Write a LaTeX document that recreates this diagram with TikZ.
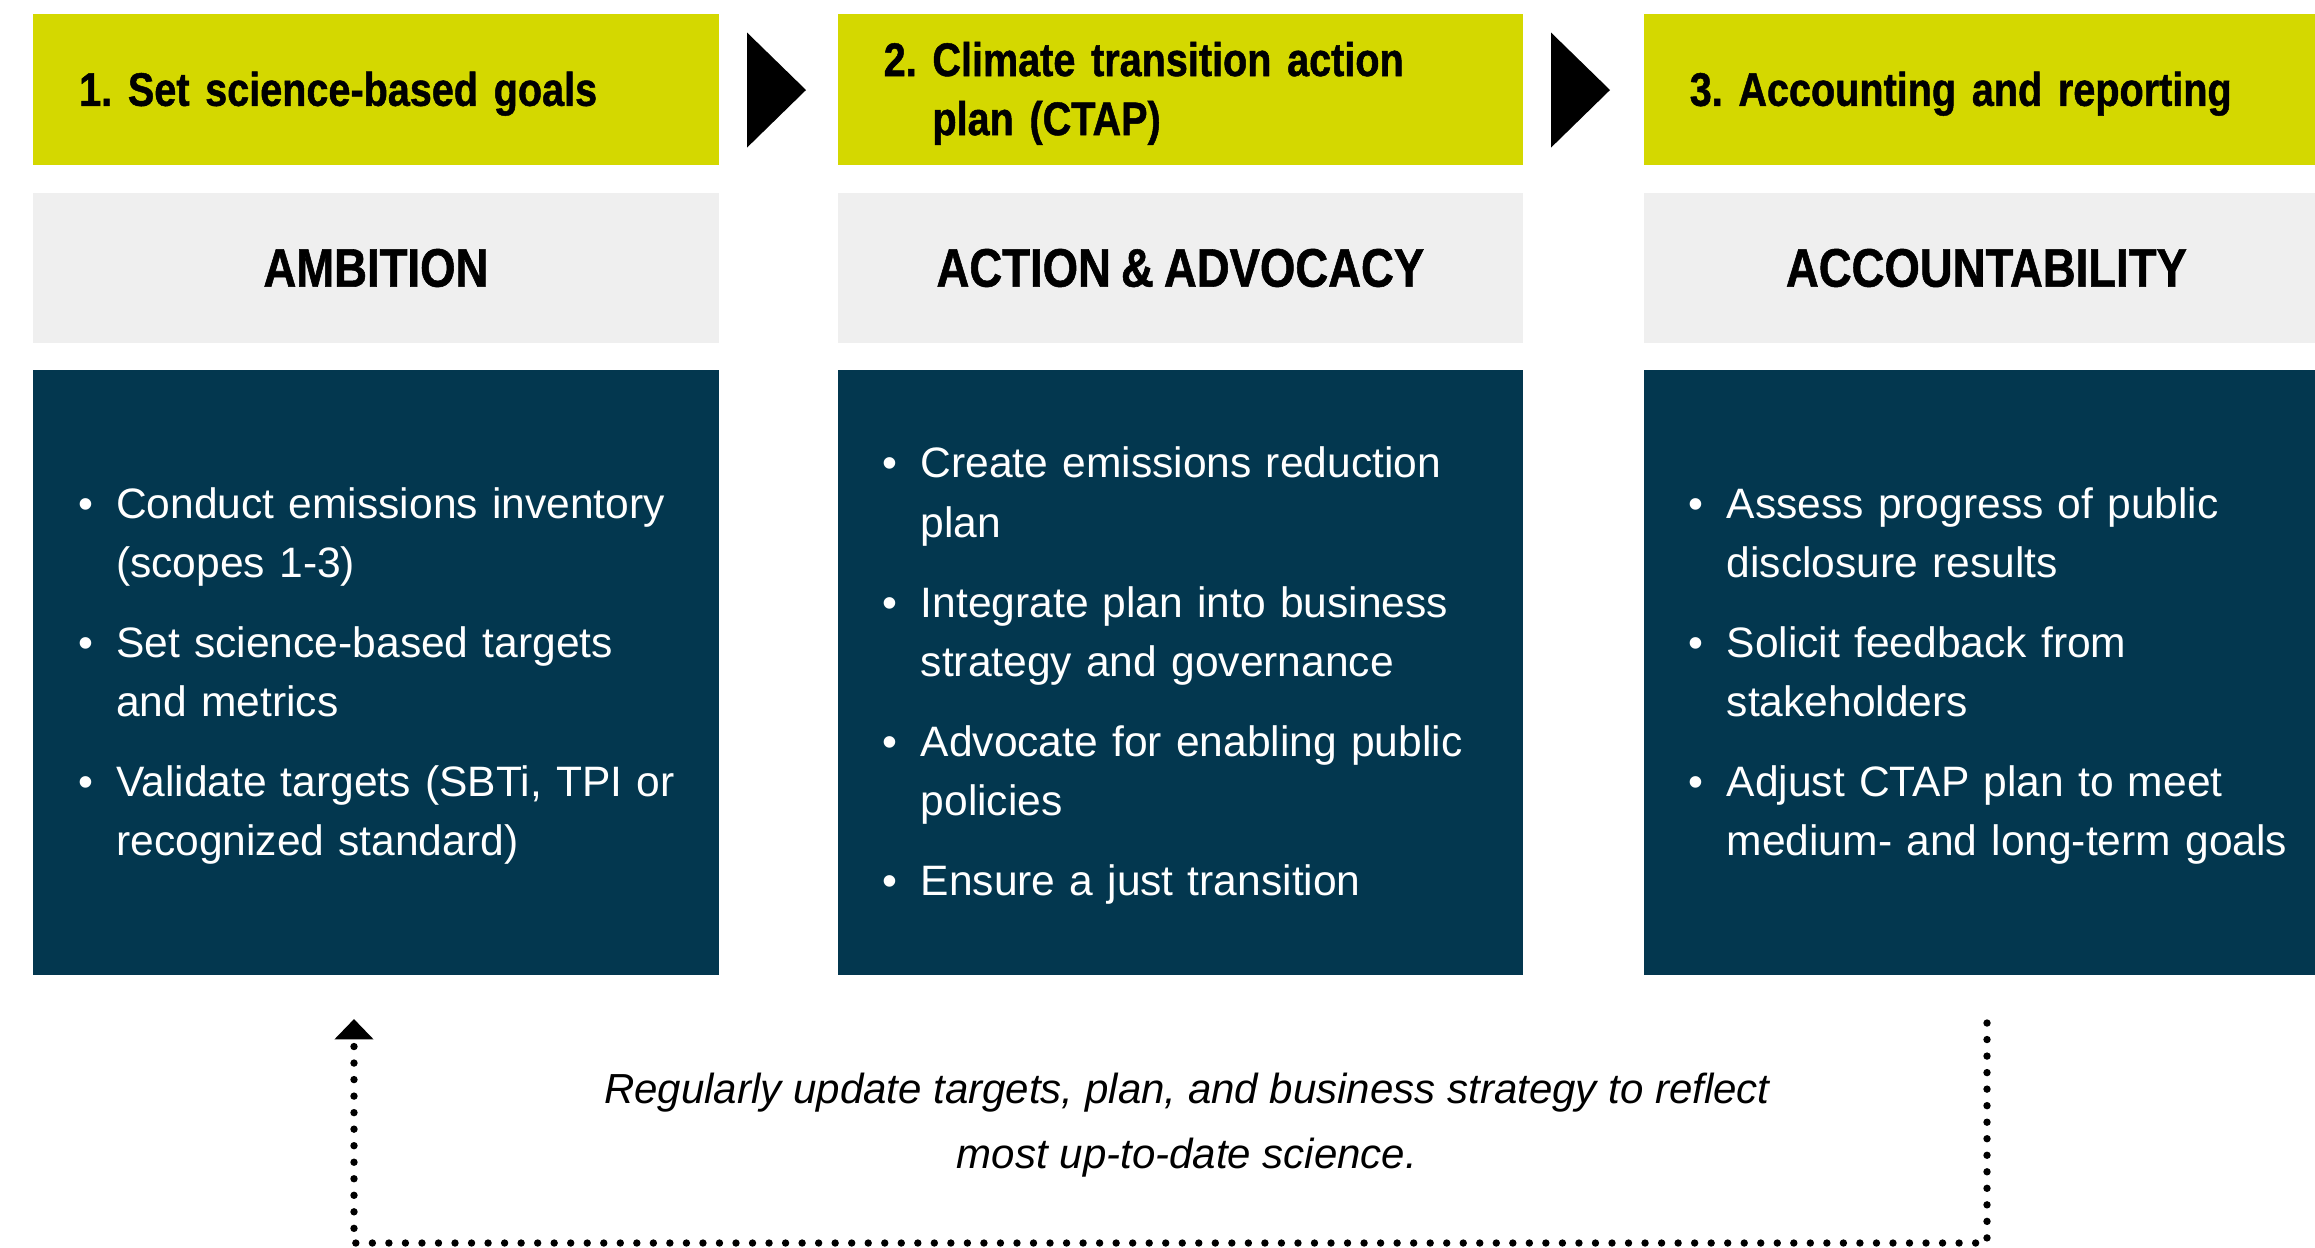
\documentclass[tikz,border=0pt]{standalone}
\usepackage{fontspec}
\setmainfont{Liberation Sans}
\newfontfamily\condfont[FakeStretch=0.84, WordSpace=0.8, BoldFeatures={FakeBold=1}]{Liberation Sans}
\usetikzlibrary{arrows.meta}
\frenchspacing

\definecolor{goalyellow}{HTML}{D4D800}
\definecolor{pillargrey}{HTML}{EFEFEF}
\definecolor{stepsblue}{HTML}{03374F}

\newcommand{\bitem}[1]{\par\noindent\makebox[0.38cm][l]{\textbullet}%
  \begin{tabular}[t]{@{}l@{}}#1\end{tabular}\par}

\tikzset{
  goalbox/.style={fill=goalyellow, anchor=north west, minimum width=6.85cm,
    minimum height=1.51cm, text width=5.93cm, inner xsep=0.46cm, inner ysep=0pt,
    align=left, font=\condfont\bfseries\fontsize{13.4}{16.8}\selectfont},
  pillarbox/.style={fill=pillargrey, anchor=north west, minimum width=6.85cm,
    minimum height=1.505cm, inner sep=0pt,
    font=\condfont\bfseries\fontsize{15.4}{17}\selectfont},
  stepsbox/.style={fill=stepsblue, anchor=north west, minimum width=6.85cm,
    minimum height=6.05cm, inner sep=0pt},
  stepstext/.style={anchor=west, text=white, text width=6.3cm, inner sep=0pt,
    align=left, font=\fontsize{12.1}{16.8}\selectfont},
  feedback/.style={line width=2.1pt, line cap=round, dash pattern=on 0pt off 4.7pt,
    -{Triangle[width=10.8pt,length=5.8pt]}}
}

\begin{document}
\begin{tikzpicture}[x=0.01cm,y=-0.01cm]
  \useasboundingbox (0,0) rectangle (2315,1247);

  \node[goalbox] (Goal1) at (32.5,13) {1. Set science-based goals\vspace*{-0.09cm}};
  \node[goalbox] (Goal2) at (837,13)
    {2. \begin{tabular}[t]{@{}l@{}}Climate transition action\\plan (CTAP)\end{tabular}\vspace*{-0.09cm}};
  \node[goalbox] (Goal3) at (1643,13) {3. Accounting and reporting\vspace*{-0.09cm}};

  \fill (747,32.5) -- (806,90) -- (747,147.6) -- cycle;
  \fill (1551,32.5) -- (1610,90) -- (1551,147.6) -- cycle;

  \node[pillarbox] (Pillar1) at (32.5,192) {AMBITION};
  \node[pillarbox] (Pillar2) at (837,192) {ACTION \& ADVOCACY};
  \node[pillarbox] (Pillar3) at (1643,192) {ACCOUNTABILITY};

  \node[stepsbox] (Steps1) at (32.5,369) {};
  \node[stepsbox] (Steps2) at (837,369) {};
  \node[stepsbox] (Steps3) at (1643,369) {};

  \node[stepstext] (List1) at ([xshift=0.45cm,yshift=0.15cm]Steps1.west) {\setlength\parskip{5pt}%
    \bitem{Conduct emissions inventory\\(scopes 1-3)}
    \bitem{Set science-based targets\\and metrics}
    \bitem{Validate targets (SBTi, TPI or\\recognized standard)}};
  \node[stepstext] (List2) at ([xshift=0.45cm,yshift=0.15cm]Steps2.west) {\setlength\parskip{5pt}%
    \bitem{Create emissions reduction\\plan}
    \bitem{Integrate plan into business\\strategy and governance}
    \bitem{Advocate for enabling public\\policies}
    \bitem{Ensure a just transition}};
  \node[stepstext] (List3) at ([xshift=0.45cm,yshift=0.15cm]Steps3.west) {\setlength\parskip{5pt}%
    \bitem{Assess progress of public\\disclosure results}
    \bitem{Solicit feedback from\\stakeholders}
    \bitem{Adjust CTAP plan to meet\\medium- and long-term goals}};

  \node[align=center, font=\itshape\fontsize{11.95}{18.5}\selectfont] (Note) at (1187,1125)
    {Regularly update targets, plan, and business strategy to reflect\\most up-to-date science.};

  \coordinate (FbStart) at (1987,1023);
  \coordinate (FbRight) at (1987,1243);
  \coordinate (FbLeft) at (354,1243);
  \coordinate (FbEnd) at (354,1019);
  \draw[feedback] (FbStart) -- (FbRight) -- (FbLeft) -- (FbEnd);
\end{tikzpicture}
\end{document}
